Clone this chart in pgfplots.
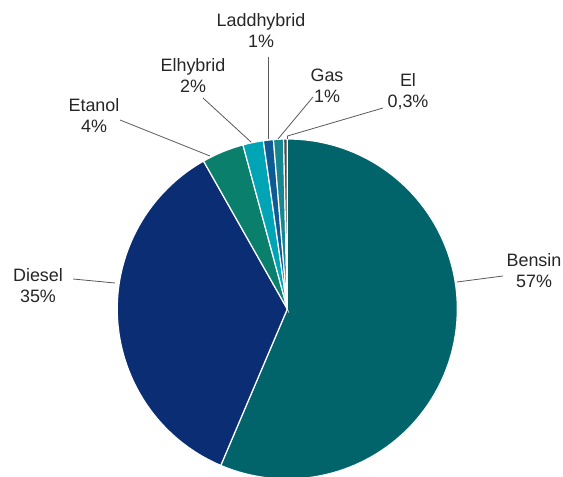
\documentclass[border=0pt]{standalone}
\usepackage{pgfplots}
\pgfplotsset{compat=1.18}
\usepackage{fontspec}
\setmainfont{Liberation Sans}
\definecolor{cBensin}{HTML}{00646A}
\definecolor{cDiesel}{HTML}{0A2D74}
\definecolor{cEtanol}{HTML}{0A7F6C}
\definecolor{cElhybrid}{HTML}{00A4B4}
\definecolor{cLadd}{HTML}{0E5A93}
\definecolor{cGas}{HTML}{16868F}
\definecolor{cEl}{HTML}{4A4A4A}
\definecolor{txt}{HTML}{262626}
\definecolor{lead}{HTML}{595959}
% \slice{start percent}{value percent}{colour}
\newcommand\slice[3]{%
  \fill[#3, draw=white, line width=1.2bp] (axis cs:287.3,168) -- ++({90-3.6*#1}:170bp)
    arc[start angle={90-3.6*#1}, end angle={90-3.6*(#1+#2)}, radius=170bp] -- cycle;}
\newcommand\lab[4]{%
  \node[anchor=base, text=txt, font=\fontsize{18}{21}\selectfont, inner sep=0pt] at (axis cs:#1,#2) {#3};
  \node[anchor=base, text=txt, font=\fontsize{18}{21}\selectfont, inner sep=0pt] at (axis cs:#1,{#2-21}) {#4};}
\begin{document}
\begin{tikzpicture}
\begin{axis}[hide axis, x=1bp, y=1bp, xmin=0, xmax=563, ymin=0, ymax=477,
  scale only axis, clip=true]
\slice{0}{56.4}{cBensin}
\slice{56.4}{35.4}{cDiesel}
\slice{91.8}{4.0}{cEtanol}
\slice{95.8}{1.95}{cElhybrid}
\slice{97.75}{0.95}{cLadd}
\slice{98.7}{0.95}{cGas}
\slice{99.65}{0.35}{cEl}
\draw[lead, line width=0.8bp] (axis cs:457,195) -- (axis cs:503,201);
\draw[lead, line width=0.8bp] (axis cs:73,198) -- (axis cs:115,194);
\draw[lead, line width=0.8bp] (axis cs:120,357) -- (axis cs:210,321);
\draw[lead, line width=0.8bp] (axis cs:203,379) -- (axis cs:251,335);
\draw[lead, line width=0.8bp] (axis cs:268,420) -- (axis cs:268,338);
\draw[lead, line width=0.8bp] (axis cs:313,380) -- (axis cs:278,338);
\draw[lead, line width=0.8bp] (axis cs:383,369) -- (axis cs:287.5,341) -- (axis cs:287.5,338);
\lab{534}{210}{Bensin}{57\%}
\lab{38}{195}{Diesel}{35\%}
\lab{94}{365}{Etanol}{4\%}
\lab{193}{405}{Elhybrid}{2\%}
\lab{261}{450}{Laddhybrid}{1\%}
\lab{327}{395}{Gas}{1\%}
\lab{408}{390}{El}{0,3\%}
\end{axis}
\path[use as bounding box] (current axis.south west) rectangle (current axis.north east);
\end{tikzpicture}
\end{document}
